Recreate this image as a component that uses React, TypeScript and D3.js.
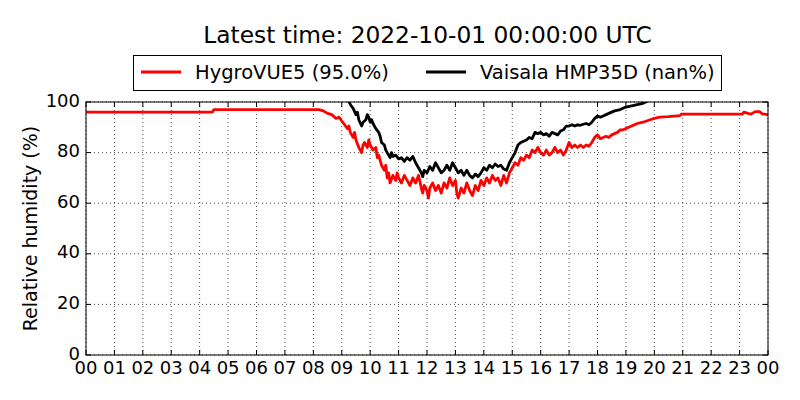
import * as React from "react";
import * as d3 from "d3";

// hours after midnight, relative humidity (%)
const hygroHours = [0, 4.45, 4.5, 8.2, 8.35, 8.5, 8.65, 8.8, 8.9, 9.0, 9.1, 9.2, 9.25, 9.3, 9.4, 9.45, 9.5, 9.6, 9.7, 9.75, 9.8, 9.9, 9.95, 10.0, 10.1, 10.2, 10.25, 10.3, 10.4, 10.5, 10.55, 10.6, 10.65, 10.7, 10.8, 10.9, 10.95, 11.0, 11.1, 11.2, 11.3, 11.4, 11.5, 11.6, 11.7, 11.8, 11.85, 11.9, 12.0, 12.05, 12.1, 12.2, 12.3, 12.4, 12.5, 12.6, 12.7, 12.8, 12.9, 13.0, 13.05, 13.1, 13.2, 13.3, 13.4, 13.5, 13.6, 13.7, 13.8, 13.9, 14.0, 14.1, 14.2, 14.3, 14.4, 14.5, 14.6, 14.7, 14.8, 14.9, 15.0, 15.1, 15.2, 15.3, 15.4, 15.5, 15.6, 15.7, 15.8, 15.9, 16.0, 16.1, 16.2, 16.3, 16.4, 16.5, 16.6, 16.7, 16.8, 16.9, 17.0, 17.1, 17.2, 17.3, 17.4, 17.5, 17.6, 17.7, 17.8, 17.9, 18.0, 18.1, 18.2, 18.3, 18.4, 18.5, 18.6, 18.7, 18.8, 18.9, 19.0, 19.2, 19.4, 19.6, 19.8, 20.0, 20.2, 20.5, 20.9, 20.95, 23.1, 23.15, 23.3, 23.4, 23.55, 23.7, 23.8, 24];
const hygroRH = [96, 96, 97, 97, 96.5, 95.5, 95, 93.5, 94, 92.5, 91, 89.5, 90.5, 88, 86, 88, 85, 82, 80, 83, 84, 82, 85, 83, 81, 82, 78, 79, 75, 73, 75, 70, 72, 68, 71, 69, 72, 70, 68, 71, 69, 67, 70, 68, 71, 66, 64, 67, 65, 62, 66, 68, 65, 67, 64, 68, 66, 70, 67, 69, 64, 62, 66, 64, 68, 65, 63, 67, 65, 69, 67, 70, 68, 71, 69, 70, 67, 71, 68, 72, 74, 76, 75, 78, 77, 79, 78, 81, 80, 82, 80, 79, 81, 79, 80, 82, 80, 81, 79, 81, 84, 82, 83, 82, 83, 82, 83, 82.5, 84, 86, 87, 85.5, 86, 86.5, 86, 87, 87.5, 88, 89, 89, 89.5, 90.5, 91.5, 92, 92.8, 93.5, 94, 94.2, 94.6, 95.2, 95.2, 96, 95.5, 95.2, 96.2, 96.2, 95.3, 95];

const vaisalaHours = [9.2, 9.3, 9.4, 9.5, 9.55, 9.6, 9.7, 9.75, 9.85, 9.9, 9.95, 10.0, 10.05, 10.1, 10.2, 10.3, 10.35, 10.4, 10.5, 10.55, 10.6, 10.7, 10.75, 10.8, 10.9, 11.0, 11.1, 11.2, 11.3, 11.4, 11.5, 11.6, 11.7, 11.8, 11.85, 11.9, 12.0, 12.1, 12.2, 12.3, 12.4, 12.5, 12.6, 12.7, 12.8, 12.9, 13.0, 13.1, 13.2, 13.3, 13.4, 13.5, 13.6, 13.7, 13.8, 13.9, 14.0, 14.1, 14.2, 14.3, 14.4, 14.5, 14.6, 14.7, 14.8, 14.9, 15.0, 15.1, 15.2, 15.3, 15.4, 15.5, 15.6, 15.7, 15.8, 15.9, 16.0, 16.1, 16.2, 16.3, 16.4, 16.5, 16.6, 16.7, 16.8, 16.9, 17.0, 17.1, 17.2, 17.3, 17.4, 17.5, 17.6, 17.7, 17.8, 17.9, 18.0, 18.1, 18.2, 18.3, 18.4, 18.6, 18.8, 19.0, 19.2, 19.4, 19.6, 19.8, 20.0];
const vaisalaRH = [101.5, 99, 97.5, 95, 96, 93, 90.5, 92, 93, 95, 94, 92, 93, 91.5, 89.5, 88, 86.5, 84, 83, 81, 80, 78, 80, 78.5, 79, 77.5, 78, 76.5, 78, 77, 78.5, 76, 74, 72, 70.5, 73, 72, 74.5, 73, 76, 74, 72, 73, 75, 73, 76, 74, 72, 73, 71, 73, 71, 70, 71.5, 70.5, 72, 74, 73, 75, 74, 75.5, 74.5, 75, 73.5, 73, 76, 78, 80, 83, 84, 84.5, 85, 86, 85.5, 88, 87.5, 88, 87, 87.5, 86.5, 88, 87.5, 87, 88.5, 89, 90.5, 90.5, 91, 90.5, 91, 90.8, 91.2, 91.5, 91, 92, 93.5, 94.5, 94, 94.5, 95, 95.5, 96.5, 97, 98, 98.5, 99, 99.5, 100.5, 101.5];

const hourTicks = d3.range(0, 25);
const rhTicks = [0, 20, 40, 60, 80, 100];

const title = "Latest time: 2022-10-01 00:00:00 UTC";
const seriesNames = ["HygroVUE5 (95.0%)", "Vaisala HMP35D (nan%)"];
const seriesColors = ["#ff0000", "#000000"];

const W = 800, H = 400;
const margin = { top: 102, right: 32, bottom: 45, left: 86 };
const font = "DejaVu Sans, sans-serif";

export default function App() {
  const iw = W - margin.left - margin.right;
  const ih = H - margin.top - margin.bottom;
  const x = d3.scaleLinear().domain([0, 24]).range([0, iw]);
  const y = d3.scaleLinear().domain([0, 100]).range([ih, 0]);
  const line = d3.line<number[]>().x(d => x(d[0])).y(d => y(d[1]));

  const series = [
    hygroHours.map((h, i) => [h, hygroRH[i]]),
    vaisalaHours.map((h, i) => [h, vaisalaRH[i]]),
  ];
  const tl = 5;

  return (
    <svg width={W} height={H} style={{ position: "absolute", left: 0, top: 0 }} fontFamily={font}>
      <rect width={W} height={H} fill="#fff" />
      <text x={427.5} y={43} textAnchor="middle" fontSize={23.3}>{title}</text>

      <g transform={`translate(${margin.left},${margin.top})`}>
        <defs>
          <clipPath id="plot"><rect width={iw} height={ih} /></clipPath>
        </defs>
        {hourTicks.map(h => (
          <line key={"gx" + h} x1={x(h)} x2={x(h)} y1={0} y2={ih} stroke="#000" strokeWidth={0.7} strokeDasharray="1,3" />
        ))}
        {rhTicks.map(v => (
          <line key={"gy" + v} x1={0} x2={iw} y1={y(v)} y2={y(v)} stroke="#000" strokeWidth={0.7} strokeDasharray="1,3" />
        ))}
        <g clipPath="url(#plot)">
          {series.map((s, i) => (
            <path key={i} d={line(s) || ""} fill="none" stroke={seriesColors[i]} strokeWidth={2.8} strokeLinejoin="round" />
          ))}
        </g>
        {hourTicks.map(h => (
          <g key={"tx" + h}>
            <line x1={x(h)} x2={x(h)} y1={ih} y2={ih - tl} stroke="#000" />
            <line x1={x(h)} x2={x(h)} y1={0} y2={tl} stroke="#000" />
            <text x={x(h)} y={ih + 18.5} textAnchor="middle" fontSize={18}>{d3.format("02d")(h % 24)}</text>
          </g>
        ))}
        {rhTicks.map(v => (
          <g key={"ty" + v}>
            <line x1={0} x2={tl} y1={y(v)} y2={y(v)} stroke="#000" />
            <line x1={iw} x2={iw - tl} y1={y(v)} y2={y(v)} stroke="#000" />
            <text x={-6} y={y(v) + 4.5} textAnchor="end" fontSize={18}>{v}</text>
          </g>
        ))}
        <rect width={iw} height={ih} fill="none" stroke="#000" strokeWidth={1} />
      </g>

      <text transform={`translate(37,${margin.top + ih / 2}) rotate(-90)`} textAnchor="middle" fontSize={19}>Relative humidity (%)</text>

      <g>
        <rect x={133.5} y={55.5} width={588} height={35} fill="#fff" stroke="#000" strokeWidth={1} />
        {seriesNames.map((n, i) => {
          const lx = i === 0 ? 141 : 426;
          return (
            <g key={n}>
              <line x1={lx} x2={lx + 40} y1={72} y2={72} stroke={seriesColors[i]} strokeWidth={2.8} />
              <text x={lx + 54} y={79} fontSize={19.5}>{n}</text>
            </g>
          );
        })}
      </g>
    </svg>
  );
}
